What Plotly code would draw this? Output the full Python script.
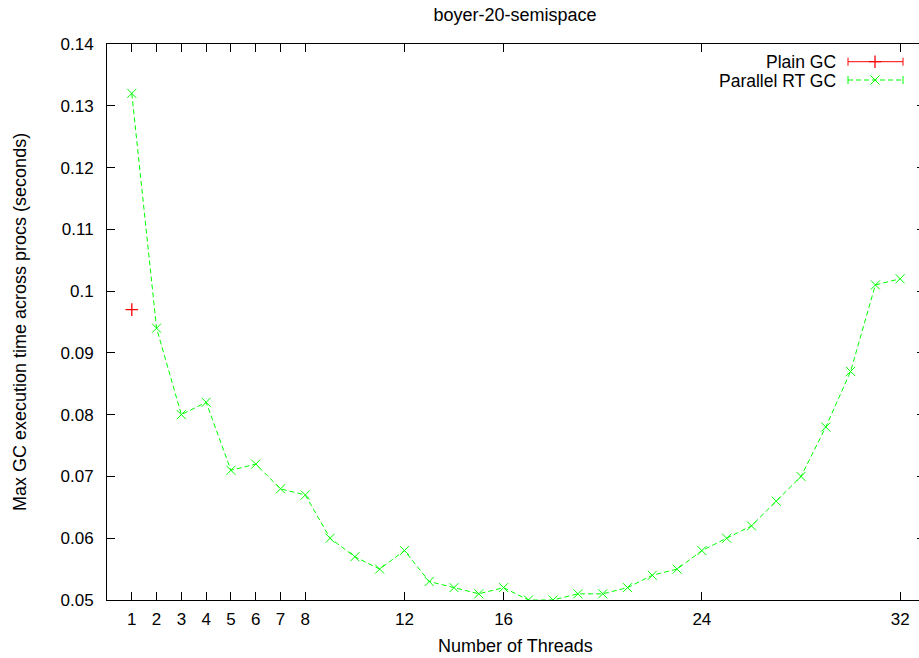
import plotly.graph_objects as go

threads = list(range(1, 33))
parallel_rt_gc = [0.132, 0.094, 0.080, 0.082, 0.071, 0.072, 0.068, 0.067,
                  0.060, 0.057, 0.055, 0.058, 0.053, 0.052, 0.051, 0.052,
                  0.050, 0.050, 0.051, 0.051, 0.052, 0.054, 0.055, 0.058,
                  0.060, 0.062, 0.066, 0.070, 0.078, 0.087, 0.101, 0.102]
plain_threads = [1]
plain_gc = [0.097]

x_ticks = [1, 2, 3, 4, 5, 6, 7, 8, 12, 16, 24, 32]
y_ticks = [0.05, 0.06, 0.07, 0.08, 0.09, 0.10, 0.11, 0.12, 0.13, 0.14]
y_tick_text = ["0.05", "0.06", "0.07", "0.08", "0.09", "0.1", "0.11", "0.12", "0.13", "0.14"]
series_names = ["Plain GC", "Parallel RT GC"]

RED = "#ff0000"
GREEN = "#00ff00"
FONT = "Liberation Sans, Arial, sans-serif"
FS = 18

fig = go.Figure()
fig.add_trace(go.Scatter(
    x=threads, y=parallel_rt_gc, mode="lines+markers", name=series_names[1],
    line=dict(color=GREEN, width=1, dash="5px,3px"),
    marker=dict(symbol="x-thin", size=9, line=dict(color=GREEN, width=1)),
    showlegend=False))
fig.add_trace(go.Scatter(
    x=plain_threads, y=plain_gc, mode="markers", name=series_names[0],
    marker=dict(symbol="cross-thin", size=9, line=dict(color=RED, width=1.3)),
    showlegend=False))

# manual gnuplot-style legend (text left, sample right)
L = 107; W = 812; T = 44; H = 556
def fx(p): return (p - L) / W
def fy(p): return (600 - p) / H
rows = [61.7, 80.0]
x_text = fx(837); x0 = fx(848); x1 = fx(903); xm = fx(875); cap = 4 / H
colors = [RED, GREEN]
dashes = ["solid", "5px,3px"]
symbols = ["cross-thin", "x-thin"]
for i, name in enumerate(series_names):
    yy = fy(rows[i])
    fig.add_annotation(xref="paper", yref="paper", x=x_text, y=yy, text=name,
                       showarrow=False, xanchor="right", yanchor="middle",
                       height=17, valign="middle", borderpad=0,
                       font=dict(family=FONT, size=FS - 0.5, color="black"))
    fig.add_shape(type="line", xref="paper", yref="paper", x0=x0, x1=x1, y0=yy, y1=yy,
                  line=dict(color=colors[i], width=1, dash=dashes[i]))
    for xc in (x0, x1):
        fig.add_shape(type="line", xref="paper", yref="paper", x0=xc, x1=xc,
                      y0=yy - cap, y1=yy + cap, line=dict(color=colors[i], width=1))
    fig.add_trace(go.Scatter(x=[xm], y=[yy], xaxis="x3", yaxis="y3", mode="markers",
                             marker=dict(symbol=symbols[i], size=9,
                                         line=dict(color=colors[i], width=1.3 if i == 0 else 1)),
                             showlegend=False, hoverinfo="skip"))

# axis titles placed like gnuplot
fig.add_annotation(xref="paper", yref="paper", x=fx(515), y=fy(646), text="Number of Threads",
                   showarrow=False, xanchor="center", yanchor="middle",
                   font=dict(family=FONT, size=FS, color="black"))
fig.add_annotation(xref="paper", yref="paper", x=fx(20), y=fy(322),
                   text="Max GC execution time across procs (seconds)", textangle=-90,
                   showarrow=False, xanchor="center", yanchor="middle",
                   font=dict(family=FONT, size=FS, color="black"))

fig.update_layout(
    width=919, height=658,
    margin=dict(l=L, r=0, t=T, b=58, autoexpand=False),
    paper_bgcolor="white", plot_bgcolor="white",
    font=dict(family=FONT, size=FS, color="black"),
    title=dict(text="boyer-20-semispace", x=fx(515), xref="paper", y=1 - 15 / 658,
               yanchor="middle", xanchor="center", font=dict(family=FONT, size=FS)),
    xaxis=dict(range=[0, 32.76], tickvals=x_ticks, ticktext=[str(v) for v in x_ticks],
               ticks="inside", ticklen=8, tickcolor="black", showline=True, linecolor="black",
               linewidth=1, mirror=True, showgrid=False, zeroline=False,
               automargin=False, tickfont=dict(size=17), ticklabelstandoff=4),
    xaxis2=dict(range=[0, 32.76], tickvals=x_ticks, overlaying="x", side="top",
                ticks="inside", ticklen=8, tickcolor="black", showticklabels=False,
                showline=False, showgrid=False, zeroline=False, automargin=False),
    yaxis=dict(range=[0.05, 0.14], tickvals=y_ticks, ticktext=y_tick_text,
               ticks="inside", ticklen=8, tickcolor="black", showline=True, linecolor="black",
               linewidth=1, mirror=False, showgrid=False, zeroline=False,
               automargin=False, ticklabelstandoff=9, tickfont=dict(size=17)),
    yaxis2=dict(range=[0.05, 0.14], tickvals=y_ticks, overlaying="y", side="right",
                ticks="inside", ticklen=2, tickcolor="black", showticklabels=False,
                showline=False, showgrid=False, zeroline=False, automargin=False),
    xaxis3=dict(range=[0, 1], overlaying="x", visible=False, fixedrange=True),
    yaxis3=dict(range=[0, 1], overlaying="y", visible=False, fixedrange=True),
)
fig.add_trace(go.Scatter(x=[None], y=[None], xaxis="x2", yaxis="y2",
                         showlegend=False, hoverinfo="skip"))

fig.write_html("out.html", config={"displayModeBar": False},
               post_script="document.body.style.margin='0';document.body.style.overflow='hidden';")
